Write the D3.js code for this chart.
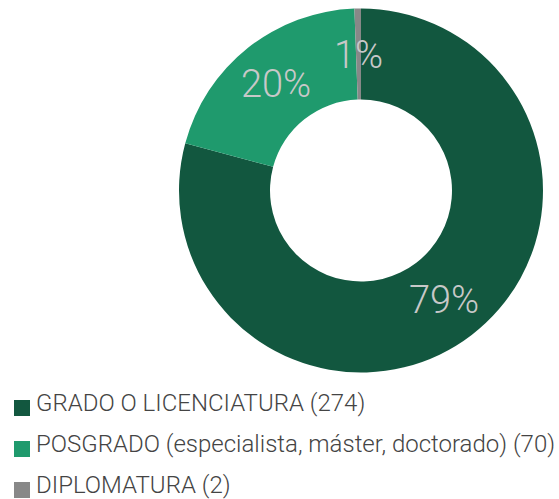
<!DOCTYPE html>
<html>
<head>
<meta charset="utf-8">
<script src="https://cdn.jsdelivr.net/npm/d3@7"></script>
<style>
  body { margin: 0; background: #fff; }
  svg { display: block; font-family: Roboto, sans-serif; }
</style>
</head>
<body>
<div id="chart"></div>
<script>
// Data
const categories = ["GRADO O LICENCIATURA", "POSGRADO (especialista, máster, doctorado)", "DIPLOMATURA"];
const counts = [274, 70, 2];
const colors = ["#12573f", "#1f9a6d", "#888888"];

const width = 559, height = 499;
const cx = 361, cy = 190.5;
const outerR = 182, innerR = 91;

const svg = d3.select("#chart")
    .append("svg")
    .attr("width", width)
    .attr("height", height);

const total = d3.sum(counts);
const data = counts.map((v, i) => ({ name: categories[i], value: v, color: colors[i] }));

const pie = d3.pie()
    .value(d => d.value)
    .sort(null);

const arc = d3.arc()
    .innerRadius(innerR)
    .outerRadius(outerR);

const g = svg.append("g")
    .attr("transform", `translate(${cx},${cy})`);

const arcs = pie(data);

g.selectAll("path")
    .data(arcs)
    .enter().append("path")
    .attr("d", arc)
    .attr("fill", d => d.data.color);

// percentage labels
g.selectAll("text")
    .data(arcs)
    .enter().append("text")
    .attr("transform", d => `translate(${arc.centroid(d)})`)
    .attr("text-anchor", "middle")
    .attr("dy", "0.36em")
    .attr("fill", "#c8c8c8")
    .attr("font-size", 38)
    .attr("font-weight", 300)
    .text(d => Math.round(d.value / total * 100) + "%");

// legend
const legend = svg.append("g")
    .attr("transform", "translate(14,0)");

const rowY = [411, 452, 493];

const item = legend.selectAll("g")
    .data(data)
    .enter().append("g")
    .attr("transform", (d, i) => `translate(0,${rowY[i]})`);

item.append("rect")
    .attr("x", 0)
    .attr("y", -11)
    .attr("width", 16)
    .attr("height", 16)
    .attr("fill", d => d.color);

item.append("text")
    .attr("x", 22)
    .attr("y", 0)
    .attr("fill", "#444")
    .attr("font-size", 24)
    .attr("font-weight", 300)
    .text(d => `${d.name} (${d.value})`);
</script>
</body>
</html>
